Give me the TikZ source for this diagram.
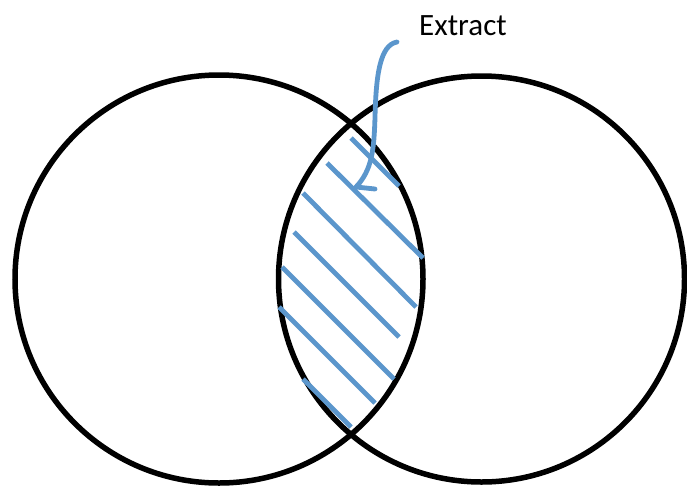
\documentclass[tikz,border=0pt]{standalone}
\usepackage{fontspec}
\setmainfont{Carlito}
\definecolor{hatchblue}{RGB}{91,150,204}
\begin{document}
\begin{tikzpicture}[x=1pt,y=-1pt,
  ring/.style={draw=black,line width=5.5pt,circle,inner sep=0pt,outer sep=0pt},
  hatch/.style={draw=hatchblue,line width=4.8pt},
  pointer/.style={draw=hatchblue,line width=4.8pt,line cap=round,line join=round},
  label/.style={font=\fontsize{31}{36}\selectfont,inner sep=0pt,anchor=base}]
\useasboundingbox (0,0) rectangle (687,485);
\fill[white] (0,0) rectangle (687,485);
\node[ring,minimum size=408pt] (left) at (219,279) {};
\node[ring,minimum size=406pt] (right) at (481.5,279) {};
% hatching of the intersection
\draw[hatch] (351,138) -- (399,186);
\draw[hatch] (327,163) -- (423,258);
\draw[hatch] (303,193) -- (416,307);
\draw[hatch] (294,232) -- (399,337);
\draw[hatch] (282,267) -- (394,379);
\draw[hatch] (279,307) -- (375,403);
\draw[hatch] (303,379) -- (351,427);
% label and pointer
\node[label] (extract) at (463,35) {Extract};
\coordinate (start) at (397,42);
\coordinate (tip) at (356,187);
\coordinate (barb) at (375,189);
\draw[pointer] (start) .. controls (380,45) and (376,75) .. (375,117)
  .. controls (374,150) and (372,170) .. (tip) -- (barb);
\end{tikzpicture}
\end{document}
